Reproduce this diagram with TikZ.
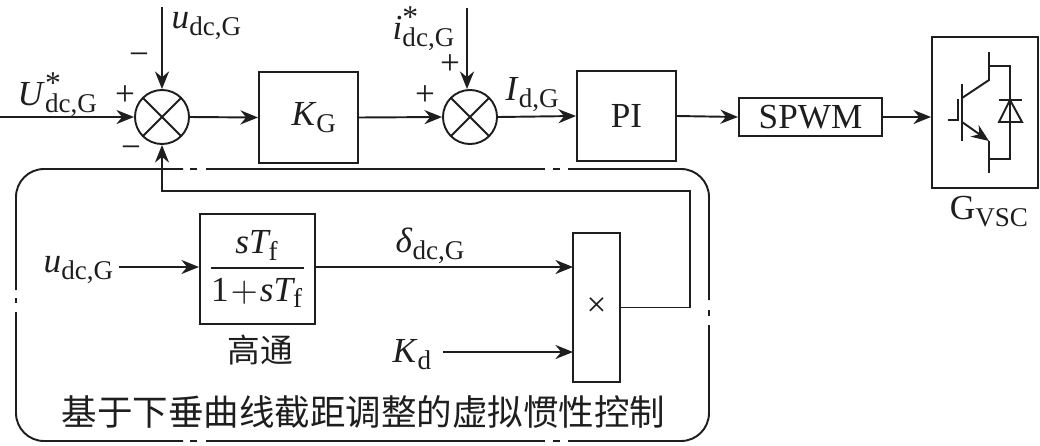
\documentclass[tikz,border=0pt]{standalone}
\usepackage{amsmath}
\usepackage{fontspec}
\setmainfont{Liberation Serif}
\newfontfamily\cjk{Noto Sans CJK SC}
\usepackage{tikz}
\usetikzlibrary{calc,arrows.meta}
\DeclareMathSizes{10}{10}{7.7}{6}
\definecolor{inkc}{HTML}{1E1E1E}
\newcommand{\subt}[1]{\raisebox{-2pt}{\fontsize{7.7}{8}\selectfont #1}}
\newcommand{\supt}{\rlap{\raisebox{3.4pt}{\fontsize{9}{9}\selectfont *}}}
\tikzset{
	>={Stealth[length=5pt,width=4pt]},
	wire/.style={line width=0.55pt,color=inkc},
	blockbox/.style={draw=inkc,line width=0.55pt,inner sep=0pt,text=inkc},
	sumnode/.style={circle,draw=inkc,line width=0.55pt,minimum size=0.54cm,inner sep=0pt,
		path picture={\draw[wire] (path picture bounding box.north west)--(path picture bounding box.south east)
			(path picture bounding box.south west)--(path picture bounding box.north east);}},
	lbl/.style={inner sep=0pt,anchor=base west,text=inkc},
	sgn/.style={inner sep=0pt,text=inkc}
}
\begin{document}
\begin{tikzpicture}[x=0.01cm,y=-0.01cm]
	\useasboundingbox (0,0) rectangle (1040,445);
	% top row
	\node[sumnode] (sumA) at (162,117) {};
	\node[blockbox,minimum width=0.99cm,minimum height=0.91cm] (kg) at (308.5,117.5) {\hspace{3pt}\textit{K}\subt{G}};
	\node[sumnode] (sumB) at (470,117) {};
	\node[blockbox,minimum width=0.99cm,minimum height=0.90cm] (pi) at (626.5,116) {PI};
	\node[blockbox,minimum width=1.43cm,minimum height=0.38cm] (spwm) at (810.5,117) {SPWM};
	\node[blockbox,minimum width=1.06cm,minimum height=1.51cm] (vsc) at (985,112.5) {};
	\coordinate (uin) at (0,117);
	\coordinate (utop) at (162,7);
	\coordinate (itop) at (467,8);
	\draw[->,wire] (uin)--(sumA.west);
	\draw[->,wire] (utop)--(sumA.north);
	\draw[->,wire] (sumA.east)--(kg.west);
	\draw[->,wire] (kg.east)--(sumB.west);
	\draw[->,wire] (itop)--(itop|-sumB.north);
	\draw[->,wire] (sumB.east)--(pi.west);
	\draw[->,wire] (pi.east)--(spwm.west);
	\draw[->,wire] (spwm.east)--(vsc.west|-spwm.east);
	\node[lbl] (lblUref) at (17,105) {\textit{U}\supt\subt{dc,G}};
	\node[lbl] (lblUtop) at (171,28) {\textit{u}\subt{dc,G}};
	\node[lbl] (lblIref) at (392,39) {\textit{i}\supt\subt{dc,G}};
	\node[lbl] (lblId) at (505,100) {\textit{I}\subt{d,G}};
	\node[sgn] (plusA) at (125,96) {+};
	\node[sgn] (minusA) at (139,59) {−};
	\node[sgn] (minusB) at (131,152) {−};
	\node[sgn] (plusB) at (450,65) {+};
	\node[sgn] (plusC) at (425,96) {+};
	% switch
	\draw[wire] (948,120)--(958,120)--(958,99);
	\draw[wire] (962,84)--(962,141);
	\draw[wire] (962,98)--(989,80)--(989,52);
	\draw[wire] (989,66)--(1010,66)--(1010,159)--(989,159);
	\draw[wire] (989,141)--(989,173);
	\draw[->,wire] (962,122)--(989,141);
	\draw[wire] (999,100)--(1022,100);
	\draw[wire] (1010,100)--(999,122)--(1022,122)--cycle;
	\node[sgn] (lblvsc) at (989,212) {G\subt{VSC}};
	% outer frame
	\draw[wire,rounded corners=0.28cm] (183,169)--(16,169)--(16,290);
	\draw[wire,rounded corners=0.28cm] (16,312)--(16,441)--(183,441);
	\draw[wire,rounded corners=0.28cm] (568,169)--(709,169)--(709,300);
	\draw[wire,rounded corners=0.28cm] (709,325)--(709,441)--(568,441);
	\draw[wire] (206,169)--(545,169);
	\draw[wire] (206,441)--(545,441);
	\draw[wire] (190,169)--(197,169);
	\draw[wire] (553,169)--(560,169);
	\draw[wire] (190,441)--(197,441);
	\draw[wire] (553,441)--(560,441);
	\draw[wire] (16,298)--(16,303);
	\draw[wire] (709,310)--(709,316);
	% inner part
	\node[blockbox,minimum width=1.15cm,minimum height=1.10cm] (hp) at (257.5,269)
		{$\displaystyle\frac{\mathit{sT}_{\text{f}}}{\text{1}\mkern-3mu+\mkern-3mu\mathit{sT}_{\text{f}}}$};
	\node[blockbox,minimum width=0.47cm,minimum height=1.49cm] (mult) at (596.5,307.5) {×};
	\node[lbl] (lblUin) at (43,272) {\textit{u}\subt{dc,G}};
	\node[lbl] (lblDelta) at (395,252) {\textit{δ}\subt{dc,G}};
	\node[lbl] (lblKd) at (392,362) {\textit{K}\subt{d}};
	\node[sgn] (lblhp) at (260,350) {\fontsize{9.3}{10}\cjk 高通};
	\node[sgn] (lblctrl) at (363.5,412) {\fontsize{10.1}{11}\cjk 基于下垂曲线截距调整的虚拟惯性控制};
	\coordinate (deltaend) at (573,267);
	\coordinate (kdend) at (573,352);
	\coordinate (fbtop) at (690,191);
	\draw[->,wire] (lblUin.east|-deltaend)++(5,0)--(hp.west|-deltaend);
	\draw[->,wire] (hp.east|-deltaend)--(deltaend);
	\draw[->,wire] (443,352)--(kdend);
	\draw[->,wire] (mult.east)-|(fbtop)-|(sumA.south);
\end{tikzpicture}
\end{document}
